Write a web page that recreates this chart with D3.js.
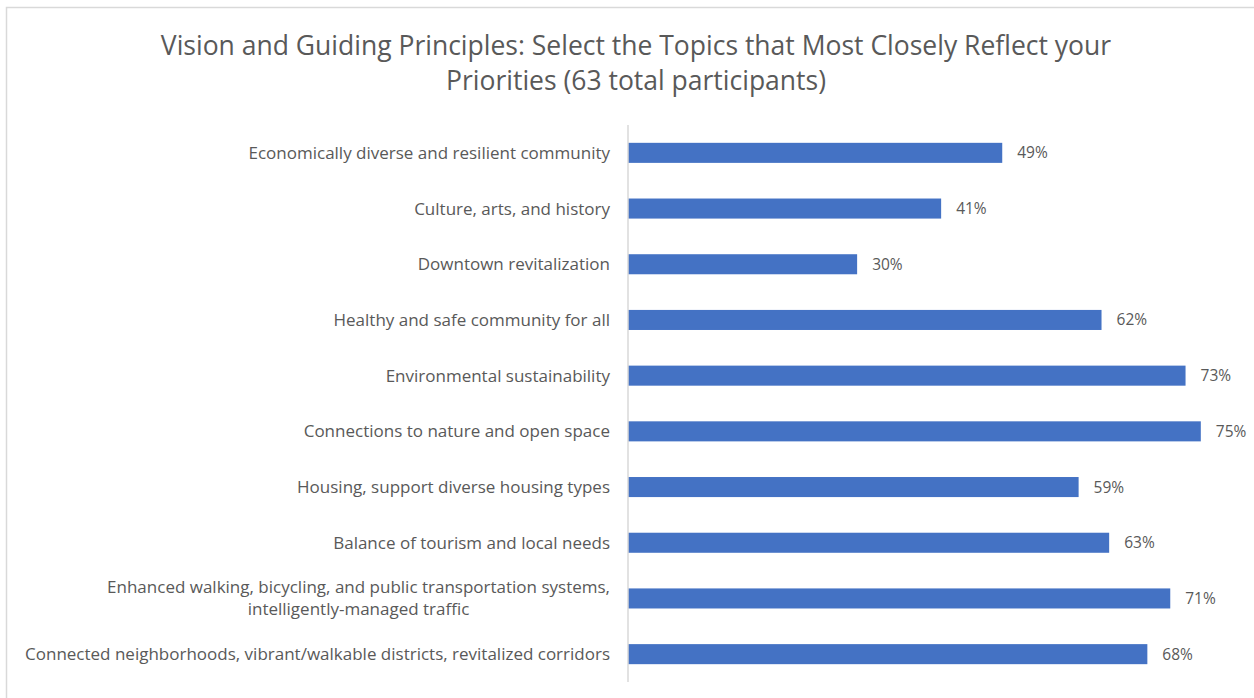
<!DOCTYPE html>
<html lang="en">
<head>
    <meta charset="UTF-8">
    <title>Vision and Guiding Principles</title>
    <script src="https://d3js.org/d3.v7.min.js"></script>
    <style>
        body { margin: 0; background: #fff; }
        text { font-family: "Open Sans", "Noto Sans", sans-serif; fill: #595959; }
        .title { font-size: 26.5px; }
        .cat { font-size: 17px; }
        .val { font-size: 15.5px; }
    </style>
</head>
<body>
    <svg width="1254" height="698"></svg>

    <script>
        const categories = [
            "Economically diverse and resilient community",
            "Culture, arts, and history",
            "Downtown revitalization",
            "Healthy and safe community for all",
            "Environmental sustainability",
            "Connections to nature and open space",
            "Housing, support diverse housing types",
            "Balance of tourism and local needs",
            "Enhanced walking, bicycling, and public transportation systems,\nintelligently-managed traffic",
            "Connected neighborhoods, vibrant/walkable districts, revitalized corridors"
        ];
        const values = [49, 41, 30, 62, 73, 75, 59, 63, 71, 68];
        const titleLines = [
            "Vision and Guiding Principles: Select the Topics that Most Closely Reflect your",
            "Priorities (63 total participants)"
        ];

        const svg = d3.select("svg");

        // chart frame
        svg.append("rect")
            .attr("x", 6.5).attr("y", 7.5)
            .attr("width", 1260).attr("height", 700)
            .attr("fill", "none")
            .attr("stroke", "#d9d9d9")
            .attr("stroke-width", 1.5);

        const x = d3.scaleLinear().domain([0, 80]).range([628, 1239]);
        const y = d3.scaleBand().domain(categories).range([125, 682]).paddingInner(0.64).paddingOuter(0.32);

        // title
        svg.append("text")
            .attr("class", "title")
            .attr("text-anchor", "middle")
            .selectAll("tspan")
            .data(titleLines)
            .enter().append("tspan")
            .attr("x", 636)
            .attr("y", (d, i) => 55 + i * 35)
            .text(d => d);

        // bars
        svg.append("g")
            .selectAll("rect")
            .data(values)
            .enter().append("rect")
            .attr("x", x(0))
            .attr("y", (d, i) => y(categories[i]))
            .attr("width", d => x(d) - x(0))
            .attr("height", y.bandwidth())
            .attr("fill", "#4472c4");

        // vertical axis line
        svg.append("line")
            .attr("x1", x(0)).attr("x2", x(0))
            .attr("y1", 125).attr("y2", 682)
            .attr("stroke", "#d9d9d9")
            .attr("stroke-width", 1.5);

        // category labels, multi-line ones centered in their block
        const labelRight = 610;
        categories.forEach((c, i) => {
            const lines = c.split("\n");
            const cy = y(c) + y.bandwidth() / 2;
            const t = svg.append("text").attr("class", "cat");
            const spans = t.selectAll("tspan").data(lines).enter().append("tspan")
                .attr("y", (d, j) => cy + 6 + (j - (lines.length - 1) / 2) * 22)
                .text(d => d);
            if (lines.length === 1) {
                t.attr("text-anchor", "end");
                spans.attr("x", labelRight);
            } else {
                let maxW = 0;
                spans.each(function () { maxW = Math.max(maxW, this.getComputedTextLength()); });
                t.attr("text-anchor", "middle");
                spans.attr("x", labelRight - maxW / 2);
            }
        });

        // value labels
        svg.append("g")
            .selectAll("text")
            .data(values)
            .enter().append("text")
            .attr("class", "val")
            .attr("x", d => x(d) + 15)
            .attr("y", (d, i) => y(categories[i]) + y.bandwidth() / 2 + 5.5)
            .text(d => d + "%");
    </script>
</body>
</html>
